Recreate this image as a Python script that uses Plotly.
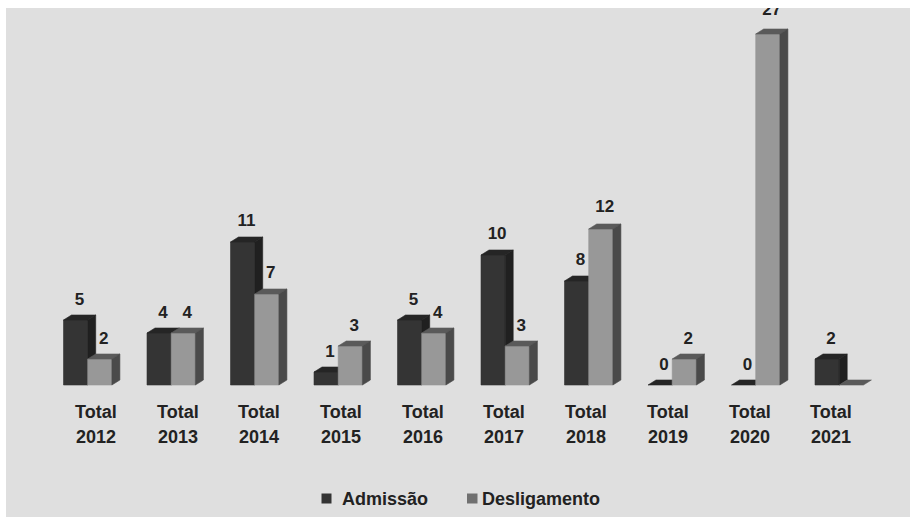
import plotly.graph_objects as go

# ---------------- data ----------------
categories = ["2012", "2013", "2014", "2015", "2016", "2017", "2018", "2019", "2020", "2021"]
cat_prefix = "Total"
series_names = ["Admissão", "Desligamento"]
admissao = [5, 4, 11, 1, 5, 10, 8, 0, 0, 2]
desligamento = [2, 4, 7, 3, 4, 3, 12, 2, 27, None]

# ---------------- geometry (pixel-based helpers) ----------------
W, H = 910, 517
BG_L, BG_T = 6, 8
X0_PX, STEP_PX = 87.7, 83.5      # group boundary of first category, spacing
BASE_PX, UNIT_PX = 385.0, 13.0   # baseline pixel, pixels per unit
LBL_X0_PX, LBL_STEP_PX = 95.9, 81.7


def xd(px):
    return (px - X0_PX) / STEP_PX


def yd(py):
    return (BASE_PX - py) / UNIT_PX


bar_w = 24.2 / STEP_PX
dx = 8.0 / STEP_PX
dy = 5.0 / UNIT_PX

styles = {
    "Admissão": dict(front="#343434", top="#252525", side="#202020", legend="#333333"),
    "Desligamento": dict(front="#989898", top="#5a5a5a", side="#4a4a4a", legend="#707070"),
}

FONT = "Liberation Sans, Arial, sans-serif"
TXT = "#222222"

fig = go.Figure()


def add_faces(values, left_offset, st):
    fx, fy, tx, ty, sx, sy = [], [], [], [], [], []
    for i, v in enumerate(values):
        h = 0 if v is None else v
        x0 = i + left_offset
        x1 = x0 + bar_w
        if h > 0:
            fx += [x0, x1, x1, x0, x0, None]
            fy += [0, 0, h, h, 0, None]
            sx += [x1, x1 + dx, x1 + dx, x1, x1, None]
            sy += [0, dy, h + dy, h, 0, None]
        tx += [x0, x1, x1 + dx, x0 + dx, x0, None]
        ty += [h, h, h + dy, h + dy, h, None]
    for xs, ys, col in ((fx, fy, st["front"]), (tx, ty, st["top"]), (sx, sy, st["side"])):
        fig.add_trace(go.Scatter(
            x=xs, y=ys, mode="lines", fill="toself", fillcolor=col,
            line=dict(color=col, width=0.6), hoverinfo="skip", showlegend=False,
        ))


add_faces(admissao, -bar_w, styles["Admissão"])
add_faces(desligamento, 0.0, styles["Desligamento"])

# value labels (scatter text, clipped by plot area like the original)
for values, off in ((admissao, -bar_w), (desligamento, 0.0)):
    lx, ly, lt = [], [], []
    for i, v in enumerate(values):
        if v is None:
            continue
        lx.append(i + off + bar_w / 2 + dx / 2)
        ly.append(v + (19.0 + 0.15 * v) / UNIT_PX)
        lt.append(str(v))
    fig.add_trace(go.Scatter(
        x=lx, y=ly, text=lt, mode="text", textposition="middle center",
        textfont=dict(family=FONT, size=17, color=TXT, weight="bold"),
        hoverinfo="skip", showlegend=False, cliponaxis=True,
    ))

annotations = []
# category labels
for i, c in enumerate(categories):
    cx = xd(LBL_X0_PX + LBL_STEP_PX * i)
    annotations.append(dict(
        x=cx, y=yd(412), xref="x", yref="y", text=cat_prefix, showarrow=False,
        xanchor="center", yanchor="middle",
        font=dict(family=FONT, size=18, color=TXT, weight="bold"),
    ))
    annotations.append(dict(
        x=cx, y=yd(436.5), xref="x", yref="y", text=c, showarrow=False,
        xanchor="center", yanchor="middle",
        font=dict(family=FONT, size=18, color=TXT, weight="bold"),
    ))

# legend (custom)
shapes = []
legend_items = [(series_names[0], 321.5, 331.5, 339.7), (series_names[1], 467.0, 477.5, 480.2)]
for name, sq0, sq1, tx in legend_items:
    shapes.append(dict(
        type="rect", xref="x", yref="y", x0=xd(sq0), x1=xd(sq1), y0=yd(503.5), y1=yd(493.5),
        fillcolor=styles[name]["legend"], line=dict(width=0),
    ))
    annotations.append(dict(
        x=xd(tx), y=yd(499), xref="x", yref="y", text=name, showarrow=False,
        xanchor="left", yanchor="middle",
        font=dict(family=FONT, size=18, color=TXT, weight="bold"),
    ))

fig.update_layout(
    width=W, height=H, autosize=False,
    margin=dict(l=BG_L, t=BG_T, r=0, b=0, pad=0),
    paper_bgcolor="#ffffff", plot_bgcolor="#dfdfdf",
    xaxis=dict(range=[xd(BG_L), xd(W)], visible=False, fixedrange=True),
    yaxis=dict(range=[yd(H), yd(BG_T)], visible=False, fixedrange=True),
    showlegend=False,
    annotations=annotations, shapes=shapes,
)

fig.write_html("out.html")
